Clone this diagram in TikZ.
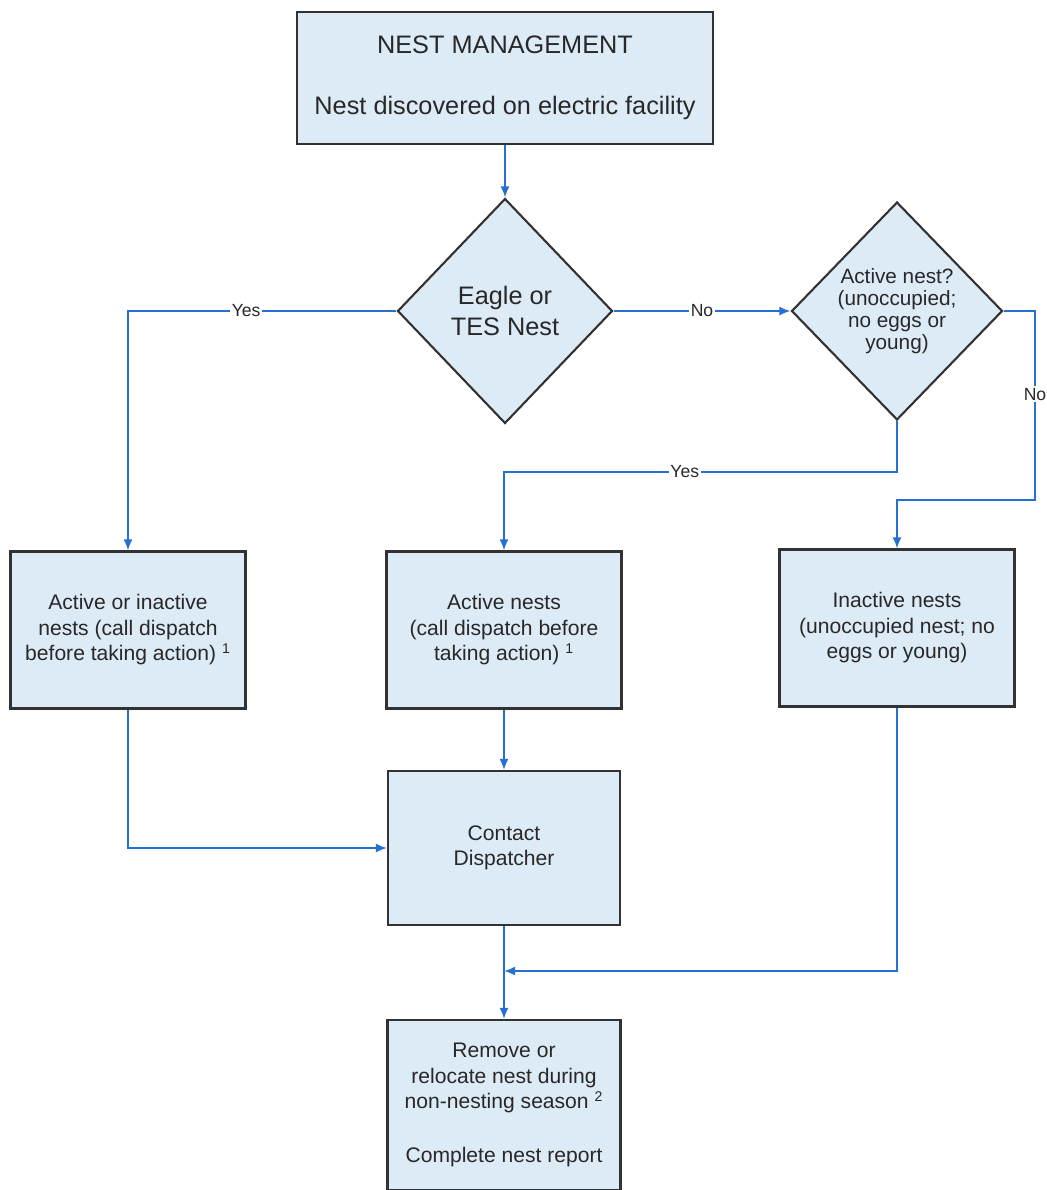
\documentclass[tikz,border=0pt]{standalone}
\usepackage{fontspec}
\setmainfont{Liberation Sans}
\usetikzlibrary{shapes.geometric,arrows.meta}
\definecolor{boxfill}{RGB}{221,235,246}
\definecolor{flowblue}{RGB}{38,112,212}
\definecolor{edge}{RGB}{50,50,50}
\definecolor{ink}{RGB}{40,40,40}
\begin{document}
\begin{tikzpicture}[x=0.02cm,y=-0.02cm]
    \tikzset{>={Latex[length=2.2mm,width=1.8mm]},
      item/.style={draw=edge,line width=1.2pt,fill=boxfill,text=ink,align=center,inner sep=0pt},
      header/.style={item,rectangle,minimum width=83.2mm,minimum height=26.4mm,font=\fontsize{14.4}{17}\selectfont},
      box/.style={item,rectangle,minimum width=47mm,minimum height=31.4mm,font=\fontsize{12}{14.5}\selectfont},
      decision/.style={item,diamond},
      flow/.style={->,flowblue,line width=1pt},
      answer/.style={fill=white,text=ink,inner sep=1pt,font=\fontsize{10}{11}\selectfont}};
    \useasboundingbox (0,0) rectangle (1047,1190);
    \node[header] (start) at (505,78) {NEST MANAGEMENT\\[18pt]Nest discovered on electric facility};
    \node[decision,minimum width=43mm,minimum height=45mm,font=\fontsize{14.4}{18}\selectfont] (eagle) at (505,311) {Eagle or\\TES Nest};
    \node[decision,minimum width=42.2mm,minimum height=43.6mm,font=\fontsize{11.8}{12.5}\selectfont] (active) at (897,311) {Active nest?\\(unoccupied;\\no eggs or\\young)};
    \node[box] (both) at (128,630) {Active or inactive\\nests (call dispatch\\before taking action) \textsuperscript{1}};
    \node[box] (activebox) at (504,630) {Active nests\\(call dispatch before\\taking action) \textsuperscript{1}};
    \node[box] (inactive) at (897,628) {Inactive nests\\(unoccupied nest; no\\eggs or young)};
    \node[box,minimum width=46.4mm,minimum height=30.8mm] (contact) at (504,848) {Contact\\Dispatcher};
    \node[box,minimum width=46.6mm,minimum height=34mm] (remove) at (504,1105) {Remove or\\relocate nest during\\non-nesting season \textsuperscript{2}\\[16pt]Complete nest report};
    \coordinate (yesturn) at (504,472);
    \coordinate (noturn) at (1035,500);
    \coordinate (merge) at (504,971);
    \draw[flow] (start.south) -- (eagle.north);
    \draw[flow] (eagle.west) -| node[answer,pos=0.28]{Yes} (both.north);
    \draw[flow] (eagle.east) -- node[answer]{No} (active.west);
    \draw[flow] (active.south) |- node[answer,pos=0.77]{Yes} (yesturn) -- (activebox.north);
    \draw[flow] (active.east) -| node[answer,pos=0.72]{No} (noturn) -| (inactive.north);
    \draw[flow] (both.south) |- (contact.west);
    \draw[flow] (activebox.south) -- (contact.north);
    \draw[flow] (contact.south) -- (remove.north);
    \draw[flow] (inactive.south) |- (merge);
  \end{tikzpicture}
\end{document}
